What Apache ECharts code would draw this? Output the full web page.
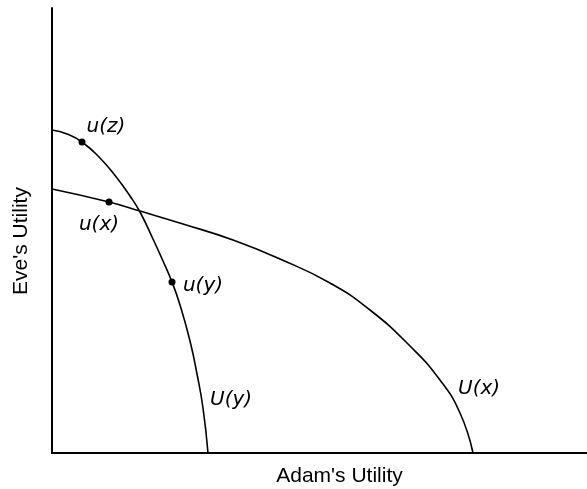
<!DOCTYPE html>
<html>
<head>
<meta charset="utf-8">
<script src="https://cdn.jsdelivr.net/npm/echarts@6/dist/echarts.min.js"></script>
<style>
  html, body { margin: 0; padding: 0; background: #fff; }
  #main { width: 587px; height: 489px; }
</style>
</head>
<body>
<div id="main"></div>
<script>
// utility possibility frontiers (Adam, Eve)
var curveUy = [[0, 323], [15, 319], [30, 311], [48, 295], [65, 275], [78, 257], [88, 241], [101, 214], [111, 192], [120, 171], [128, 148], [138, 112], [145, 79], [151, 45], [156, 0]];
var curveUx = [[0, 264], [57, 251], [88, 242], [131, 229], [181, 213], [228, 194], [278, 170], [318, 143], [358, 107], [388, 73], [408, 40], [421, 0]];
// marked allocations
var pointNames = ["u(z)", "u(x)", "u(y)"];
var pointValues = [[30, 311], [57, 251], [120, 171]];
var curveNames = ["U(y)", "U(x)"];

var labelFont = {
  color: "#000",
  fontFamily: "DejaVu Sans",
  fontStyle: "italic",
  fontSize: 20,
  textBorderWidth: 0
};
var pointOffsets = [[24, -15], [-10, 23], [31, 4]];

// one smooth path per frontier, label placed near its lower end
function frontier(name, pts, labelOffset) {
  return {
    type: "custom",
    name: name,
    data: pts,
    encode: { x: 0, y: 1 },
    renderItem: function (params, api) {
      if (params.dataIndex !== 0) return null;
      var coords = pts.map(function (p) { return api.coord(p); });
      var end = coords[coords.length - 1];
      return {
        type: "group",
        children: [
          {
            type: "polyline",
            shape: { points: coords, smooth: 0.5 },
            style: { stroke: "#000", lineWidth: 1.6, fill: null }
          },
          {
            type: "text",
            x: end[0] + labelOffset[0],
            y: end[1] + labelOffset[1],
            style: {
              text: name,
              fill: "#000",
              fontFamily: labelFont.fontFamily,
              fontStyle: labelFont.fontStyle,
              fontSize: labelFont.fontSize,
              align: "left",
              verticalAlign: "middle"
            }
          }
        ]
      };
    }
  };
}

var chart = echarts.init(document.getElementById("main"));
chart.setOption({
  animation: false,
  grid: {
    left: 52,
    right: 0,
    top: 8,
    bottom: 36,
    containLabel: false,
    outerBoundsMode: "none"
  },
  xAxis: {
    type: "value",
    min: 0,
    max: 535,
    name: "Adam's Utility",
    nameLocation: "middle",
    nameGap: 13,
    nameTextStyle: {
      color: "#000",
      fontFamily: "Liberation Sans",
      fontSize: 21,
      padding: [0, 0, 0, 40]
    },
    axisLine: { lineStyle: { color: "#000", width: 2 } },
    axisTick: { show: false },
    axisLabel: { show: false },
    splitLine: { show: false }
  },
  yAxis: {
    type: "value",
    min: 0,
    max: 445,
    name: "Eve's Utility",
    nameLocation: "middle",
    nameGap: 20,
    nameTextStyle: {
      color: "#000",
      fontFamily: "Liberation Sans",
      fontSize: 21,
      padding: [0, 21, 0, 0]
    },
    axisLine: { show: true, lineStyle: { color: "#000", width: 2 } },
    axisTick: { show: false },
    axisLabel: { show: false },
    splitLine: { show: false }
  },
  series: [
    frontier(curveNames[0], curveUy, [2, -53]),
    frontier(curveNames[1], curveUx, [-15, -64]),
    {
      type: "scatter",
      symbolSize: 7,
      itemStyle: { color: "#000", opacity: 1 },
      data: pointValues.map(function (v, i) {
        return {
          value: v,
          name: pointNames[i],
          label: Object.assign({
            show: true,
            position: "inside",
            formatter: pointNames[i],
            offset: pointOffsets[i]
          }, labelFont)
        };
      }),
      z: 5
    }
  ]
});
</script>
</body>
</html>
